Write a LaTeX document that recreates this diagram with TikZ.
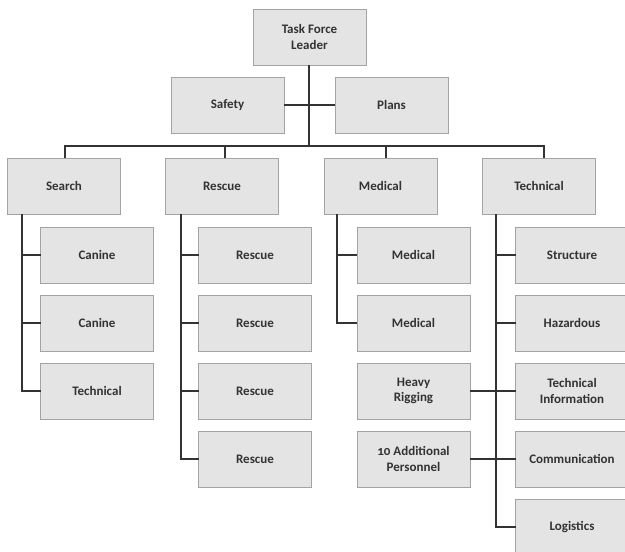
\documentclass[tikz,border=0pt]{standalone}
\usepackage{fontspec}
\setmainfont{Carlito}[Numbers=OldStyle]
\usetikzlibrary{positioning,calc}
\definecolor{boxfill}{HTML}{E4E4E4}
\definecolor{boxline}{HTML}{A3A3A3}
\definecolor{boxtext}{HTML}{333333}
\definecolor{linkcol}{HTML}{333333}
\tikzset{
    %Define style for the chart boxes
    unit/.style={
           draw=boxline, fill=boxfill, line width=0.8pt,
           minimum width=113pt, minimum height=56pt,
           inner sep=2pt, outer sep=0pt, align=center,
           text=boxtext, font=\fontsize{13}{15.5}\selectfont\bfseries},
    % Define connector style
    link/.style={
           draw=linkcol,
           line width=2pt}
}
\begin{document}
\begin{tikzpicture}[x=1pt, y=-1pt, node distance=12pt]
	\clip (0,0) rectangle (625,552);

	% top
	\node[unit](leader) at (309.5,37){Task Force\\Leader};
	\node[unit](safety) at (227.5,105){Safety};
	\node[unit](plans) at (391.5,105){Plans};
	\coordinate (bus) at (0,146);

	% sections
	\node[unit](search) at (64,186){Search};
	\node[unit](rescue) at (222,186){Rescue};
	\node[unit](medical) at (380.5,186){Medical};
	\node[unit](technical) at (539,186){Technical};

	% drop points on the sections
	\coordinate (leader-foot) at ([xshift=-1pt]leader.south);
	\coordinate (search-top) at ([xshift=1pt]search.north);
	\coordinate (rescue-top) at ([xshift=3pt]rescue.north);
	\coordinate (medical-top) at ([xshift=5pt]medical.north);
	\coordinate (technical-top) at ([xshift=5pt]technical.north);

	\draw[link] (leader-foot) -- (leader-foot |- bus);
	\draw[link] (safety.east) -- (plans.west);
	\draw[link] (search-top) |- (bus -| technical-top) -- (technical-top);
	\foreach \n in {rescue,medical}
		\draw[link] (\n-top) -- (\n-top |- bus);

	% search path
	\node[unit, below right=13pt and 33pt of search.south west](search-a){Canine};
	\node[unit, below=of search-a](search-b){Canine};
	\node[unit, below=of search-b](search-c){Technical};

	\coordinate (search-trunk) at ([xshift=14pt]search.south west);
	\draw[link] (search-trunk) |- (search-c.west);
	\foreach \n in {a,b}
		\draw[link] (search-trunk |- search-\n.west) -- (search-\n.west);

	% rescue path
	\node[unit, below right=13pt and 33pt of rescue.south west](rescue-a){Rescue};
	\node[unit, below=of rescue-a](rescue-b){Rescue};
	\node[unit, below=of rescue-b](rescue-c){Rescue};
	\node[unit, below=of rescue-c](rescue-d){Rescue};

	\coordinate (rescue-trunk) at ([xshift=15pt]rescue.south west);
	\draw[link] (rescue-trunk) |- (rescue-d.west);
	\foreach \n in {a,b,c}
		\draw[link] (rescue-trunk |- rescue-\n.west) -- (rescue-\n.west);

	% medical path
	\node[unit, below right=13pt and 33pt of medical.south west](medical-a){Medical};
	\node[unit, below=of medical-a](medical-b){Medical};
	\node[unit, below=of medical-b](medical-c){Heavy\\Rigging};
	\node[unit, below=of medical-c](medical-d){10 Additional\\Personnel};

	\coordinate (medical-trunk) at ([xshift=13pt]medical.south west);
	\draw[link] (medical-trunk) |- (medical-b.west);
	\draw[link] (medical-trunk |- medical-a.west) -- (medical-a.west);

	% technical path
	\node[unit, below right=13pt and 33pt of technical.south west](technical-a){Structure};
	\node[unit, below=of technical-a](technical-b){Hazardous};
	\node[unit, below=of technical-b](technical-c){Technical\\Information};
	\node[unit, below=of technical-c](technical-d){Communication};
	\node[unit, below=of technical-d](technical-e){Logistics};

	\coordinate (technical-trunk) at ([xshift=13pt]technical.south west);
	\draw[link] (technical-trunk) |- (technical-e.west);
	\foreach \n in {a,b}
		\draw[link] (technical-trunk |- technical-\n.west) -- (technical-\n.west);
	\draw[link] (medical-c.east) -- (technical-c.west);
	\draw[link] (medical-d.east) -- (technical-d.west);

\end{tikzpicture}
\end{document}
